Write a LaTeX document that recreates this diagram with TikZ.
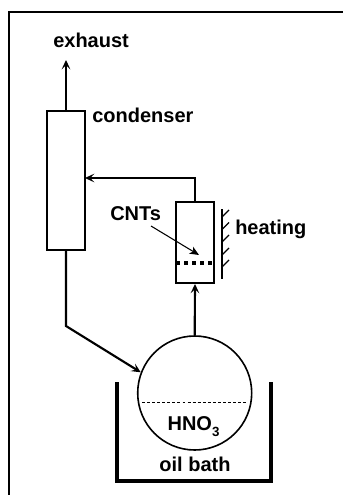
\documentclass[tikz,border=0pt]{standalone}
\usepackage{fontspec}
\usepackage{tikz}
\usetikzlibrary{arrows.meta}
\setmainfont{Liberation Sans}

\tikzset{
    vessel/.style={draw,rectangle,inner sep=0pt,line width=1.2pt},
    lbl/.style={anchor=base west,inner sep=0pt,font=\fontsize{15}{18}\selectfont\bfseries},
    lblc/.style={lbl,anchor=base},
    pipe/.style={line width=1.6pt},
    flow/.style={pipe,-{Stealth[length=7pt,width=6.5pt,inset=3pt]}}
}

\begin{document}
\begin{tikzpicture}[x=0.75pt,y=-0.75pt]
        \useasboundingbox (0,0) rectangle (343,495);
        % Frame
        \draw[line width=1.2pt] (9,495) -- (9,12) -- (343,12);
        % Vessels
        \node[vessel,minimum width=28.5pt,minimum height=104pt] (condenser) at (66,180.5) {};
        \node[vessel,minimum width=28.5pt,minimum height=61pt] (reactor) at (195,242.5) {};
        \node[draw,circle,line width=1.2pt,inner sep=0pt,minimum size=85.5pt] (flask) at (194.7,393) {};
        % Labels
        \node[lbl] (exhaust) at (53,48) {exhaust};
        \node[lbl] (condenserlabel) at (92,123) {condenser};
        \node[lbl] (cnts) at (110,220) {CNTs};
        \node[lbl] (heating) at (235,234) {heating};
        \node[lblc] (hno) at (193.5,430) {HNO\raisebox{-4.5pt}{\fontsize{10}{12}\selectfont 3}};
        \node[lblc] (oilbath) at (195,471) {oil bath};
        % Free ends and bends
        \coordinate (exhaustend) at (66,60);
        \coordinate (inlet) at (85,178);
        \coordinate (bend) at (66,326);
        \coordinate (cntsstart) at (151,226);
        \coordinate (cntsend) at (199,255);
        \coordinate (mesha) at (176,263);
        \coordinate (meshb) at (214,263);
        \coordinate (liquida) at (142,402);
        \coordinate (liquidb) at (247,402);
        % Connectors
        \draw[flow] (condenser.north) -- (exhaustend);
        \draw[flow] (reactor.north) |- (inlet);
        \draw[flow] (condenser.south) -- (bend) -- (flask.159);
        \draw[flow] (flask.north) -- (reactor.south);
        \draw[line width=0.8pt,-{Stealth[length=7pt,width=6pt,inset=2pt]}] (cntsstart) -- (cntsend);
        % Mesh and liquid level
        \draw[line width=3pt,dash pattern=on 3.2pt off 2.8pt] (mesha) -- (meshb);
        \draw[line width=0.5pt,dash pattern=on 2.2pt off 1.6pt] (liquida) -- (liquidb);
        % Heating wall
        \draw[line width=1.2pt] (222,209) -- (222,279);
        \foreach \y in {210,222.5,235,248,260}
            \draw[line width=0.9pt] (222,\y+7) -- (229,\y);
        % Oil bath
        \draw[line width=2.4pt] (117,382) -- (117,481) -- (271,481) -- (271,382);
    \end{tikzpicture}
\end{document}
